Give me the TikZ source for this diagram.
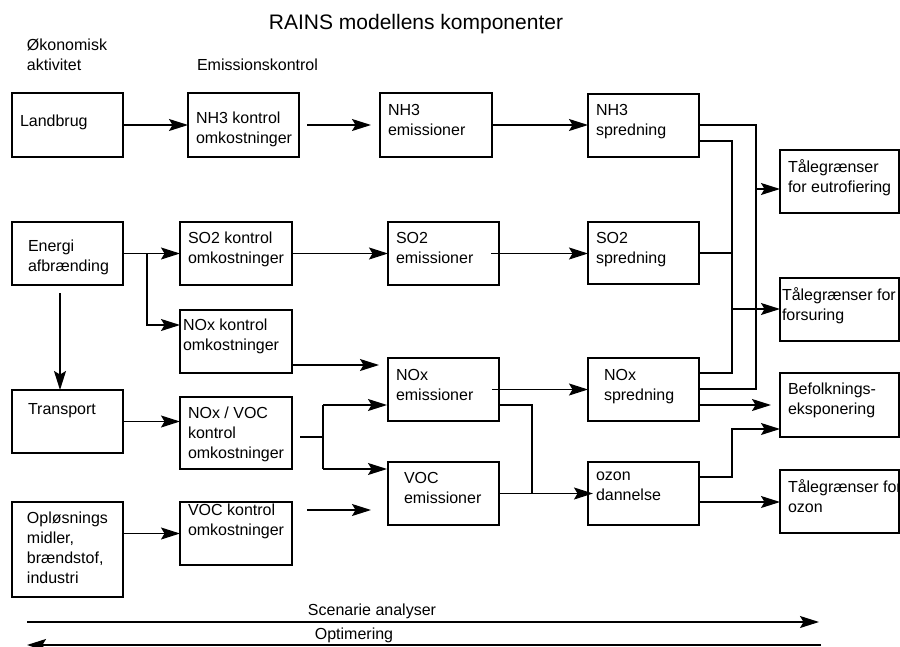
\documentclass[tikz,border=0pt]{standalone}
\usepackage{fontspec}
\setmainfont{Liberation Sans}
\usetikzlibrary{arrows.meta,calc}
\newcommand\mybox[8]{%
  \node[box,anchor=north west,minimum width={(#4-#2)*1pt},minimum height={(#5-#3)*1pt}] (#1) at (#2,#3) {};
  \node[txt,anchor=north west] (#1t) at ({#6},{#7-8}) {#8};}
\begin{document}
\begin{tikzpicture}[x=1pt,y=-1pt,
  box/.style={draw,line width=1.3pt,rectangle,inner sep=0pt,outer sep=0pt},
  txt/.style={inner sep=0pt,outer sep=0pt,align=left,font=\fontsize{16}{20}\selectfont,execute at begin node=\strut},
  lbl/.style={inner sep=0pt,outer sep=0pt,font=\fontsize{16}{20}\selectfont},
  ln/.style={line width=1.2pt},
  arr/.style={line width=1.2pt,-{Stealth[length=19pt,width=12pt,inset=3.5pt]}},
]
\useasboundingbox (0,0) rectangle (900,646);
\clip (0,0) rectangle (900,646);

% titles
\node[inner sep=0pt,anchor=base,font=\fontsize{21}{25}\selectfont] (title) at (416,29) {RAINS modellens komponenter};
\node[txt,anchor=north west] (oek) at (27,39) {Økonomisk\\aktivitet};
\node[txt,anchor=north west] (emk) at (197,56) {Emissionskontrol};

% boxes
\mybox{land}{12}{93}{123}{157}{20}{120}{Landbrug}
\mybox{nh3k}{188}{93}{299}{157}{196}{120}{NH3 kontrol\\omkostninger}
\mybox{nh3e}{380}{93}{492}{157}{388}{112}{NH3\\emissioner}
\mybox{nh3s}{588}{94}{699}{157}{596}{112}{NH3\\spredning}
\mybox{eut}{780}{150}{899}{213}{788}{168}{Tålegrænser\\for eutrofiering}
\mybox{energi}{12}{222}{123}{285}{28}{248}{Energi\\afbrænding}
\mybox{so2k}{180}{222}{292}{285}{188}{240}{SO2 kontrol\\omkostninger}
\mybox{so2e}{388}{222}{499}{285}{396}{240}{SO2\\emissioner}
\mybox{so2s}{588}{222}{699}{284}{596}{240}{SO2\\spredning}
\mybox{fors}{780}{278}{899}{341}{782}{296}{Tålegrænser for\\forsuring}
\mybox{noxk}{180}{310}{292}{373}{183}{327}{NOx kontrol\\omkostninger}
\mybox{noxe}{388}{358}{499}{421}{396}{377}{NOx\\emissioner}
\mybox{noxs}{588}{358}{699}{421}{604}{377}{NOx\\spredning}
\mybox{bef}{780}{373}{899}{437}{788}{391}{Befolknings-\\eksponering}
\mybox{transport}{12}{390}{123}{453}{28}{408}{Transport}
\mybox{noxvoc}{180}{397}{292}{469}{188}{415}{NOx / VOC\\kontrol\\omkostninger}
\mybox{voce}{388}{462}{499}{525}{404}{480}{VOC\\emissioner}
\mybox{ozon}{588}{462}{699}{525}{596}{480}{ozon\\dannelse}
\mybox{toz}{780}{470}{899}{533}{788}{488}{Tålegrænser for\\ozon}
\mybox{opl}{12}{502}{123}{597}{27}{520}{Opløsnings\\midler,\\brændstof,\\industri}
\mybox{vock}{180}{502}{292}{565}{188}{512}{VOC kontrol\\omkostninger}

% row 1
\draw[arr] (land.east) -- (land.east -| nh3k.west);
\draw[arr,shorten <=8pt,shorten >=9pt] (nh3k.east) -- (nh3k.east -| nh3e.west);
\draw[arr] (nh3e.east) -- (nh3e.east -| nh3s.west);

% row 2
\coordinate (jE) at (147,253.5);
\coordinate (jEn) at (147,325);
\draw[ln] (energi.east) -- (jE);
\draw[arr] (jE) -- (jE -| so2k.west);
\draw[arr] (jE) -- (jEn) -- (jEn -| noxk.west);
\draw[arr] (so2k.east) -- (so2k.east -| so2e.west);
\draw[arr,shorten <=-8pt] (so2e.east) -- (so2e.east -| so2s.west);

% energi -> transport
\coordinate (eV) at (60,293);
\draw[arr] (eV) -- (eV |- transport.north);

% NOx kontrol -> NOx emissioner
\coordinate (nk) at (292,365);
\draw[arr,shorten >=9pt] (nk) -- (nk -| noxe.west);

% transport -> NOx/VOC
\draw[arr] (transport.east) -- (transport.east -| noxvoc.west);

% oploesningsmidler -> VOC kontrol
\draw[arr] (opl.east |- vock.west) -- (vock.west);

% NOx/VOC split
\coordinate (jV) at (323,437);
\coordinate (jVu) at (323,405);
\coordinate (jVd) at (323,469);
\draw[ln,shorten <=8pt] (noxvoc.east |- jV) -- (jV);
\draw[ln] (jVu) -- (jVd);
\draw[arr,shorten >=1pt] (jVu) -- (jVu -| noxe.west);
\draw[arr,shorten >=1pt] (jVd) -- (jVd -| voce.west);

% VOC kontrol
\coordinate (vk) at (292,510);
\draw[arr,shorten <=15pt,shorten >=17pt] (vk) -- (vk -| voce.west);

% NOx emissioner -> NOx spredning
\draw[arr,shorten <=-7pt] (noxe.east |- noxs.west) -- (noxs.west);

% NOx emissioner / VOC emissioner -> ozon
\coordinate (jN) at (532,405);
\coordinate (jNd) at (532,493.5);
\draw[ln] (noxe.east |- jN) -- (jN) -- (jNd);
\draw[arr,shorten >=-5pt] (voce.east) -- (voce.east -| ozon.west);

% right side collectors
\coordinate (o1) at (756,125);
\coordinate (o2) at (756,389);
\draw[ln] (nh3s.east |- o1) -- (o1) -- (o2) -- (o2 -| noxs.east);
\coordinate (i1) at (732,141);
\coordinate (i2) at (732,373);
\draw[ln] (nh3s.east |- i1) -- (i1) -- (i2) -- (i2 -| noxs.east);
\draw[ln] (so2s.east) -- (so2s.east -| i1);
\coordinate (oE) at (756,189);
\draw[arr] (oE) -- (oE -| eut.west);
\coordinate (iF) at (732,309);
\draw[arr] (iF) -- (iF -| fors.west);
\coordinate (nb) at (699,405);
\draw[arr,shorten >=9pt] (nb) -- (nb -| bef.west);
\coordinate (oz1) at (699,477);
\coordinate (oz2) at (732,477);
\coordinate (oz3) at (732,429);
\draw[arr] (oz1) -- (oz2) -- (oz3) -- (oz3 -| bef.west);
\coordinate (oz4) at (699,502);
\draw[arr] (oz4) -- (oz4 -| toz.west);

% bottom
\node[lbl,anchor=base] (scen) at (372,615) {Scenarie analyser};
\node[lbl,anchor=base] (opt) at (354,639) {Optimering};
\coordinate (s1) at (27,622);
\coordinate (s2) at (819,622);
\draw[arr] (s1) -- (s2);
\coordinate (p1) at (821,645);
\coordinate (p2) at (27,645);
\draw[arr] (p1) -- (p2);
\end{tikzpicture}
\end{document}
